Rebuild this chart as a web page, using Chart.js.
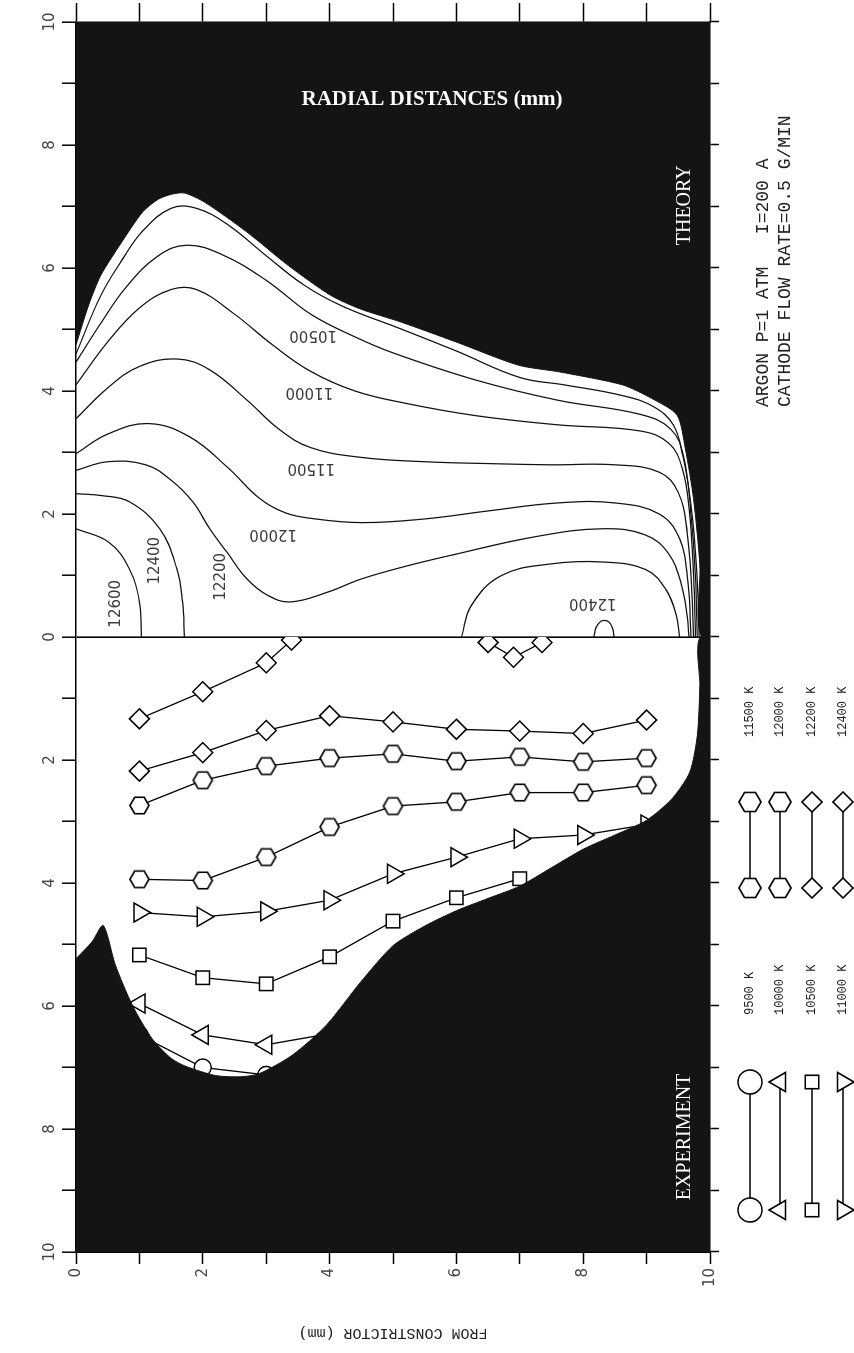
<!DOCTYPE html>
<html>
<head>
<meta charset="utf-8">
<script src="https://cdn.jsdelivr.net/npm/chart.js@4.4.0/dist/chart.umd.min.js"></script>
<style>
  html, body { margin: 0; padding: 0; background: #fff; overflow: hidden; }
  /* the figure is drawn in landscape and turned a quarter turn, like the scanned page */
  #wrap { position: absolute; left: 0; top: 0; width: 1353px; height: 854px;
          transform-origin: 0 0; transform: translateY(1353px) rotate(-90deg); }
</style>
</head>
<body>
<div id="wrap"><canvas id="chart" width="1353" height="854"></canvas></div>
<script>
// ---- experiment: radial position (mm) of each isotherm vs distance from constrictor (mm)
const expAxial = [1, 2, 3, 4, 5, 6, 7, 8, 9];
const exp9500 = [6.47, 7.0, 7.12];
const exp10000 = [5.96, 6.47, 6.63, 6.45];
const exp10500 = [5.17, 5.54, 5.64, 5.20, 4.62, 4.24, 3.93];
const exp11000 = [4.48, 4.55, 4.46, 4.28, 3.85, 3.58, 3.28, 3.22, 3.05];
const exp11500 = [3.94, 3.96, 3.58, 3.09, 2.75, 2.68, 2.53, 2.53, 2.41];
const exp12000 = [2.74, 2.33, 2.10, 1.97, 1.90, 2.02, 1.95, 2.03, 1.97];
const exp12200 = [2.18, 1.88, 1.52, 1.28, 1.38, 1.50, 1.53, 1.57, 1.35];
const exp12400Axial = [1, 2, 3, 3.4];
const exp12400 = [1.33, 0.89, 0.42, 0.05];
const exp12400bAxial = [6.5, 6.9, 7.35];
const exp12400b = [0.09, 0.33, 0.09];

// outer edge of the measured plasma (black outside)
const expEdgeAxial = [0, 0.25, 0.43, 0.62, 0.89, 1.2, 1.5, 1.73, 2.2, 2.6, 2.89, 3.41, 3.95, 4.49, 5.0, 5.5, 6.0, 6.5, 7.0, 7.5, 8.0, 8.5, 9.0, 9.4, 9.68, 9.8, 9.84, 9.85];
const expEdgeR = [5.23, 4.96, 4.69, 5.33, 5.99, 6.53, 6.85, 6.98, 7.13, 7.15, 7.1, 6.8, 6.31, 5.61, 5.02, 4.7, 4.45, 4.25, 4.05, 3.75, 3.45, 3.22, 2.98, 2.63, 2.2, 1.6, 0.8, 0];

// ---- theory: isotherms
const t9500Ax = [0, 0.2, 0.39, 0.72, 1.05, 1.3, 1.51, 1.71, 2.03, 2.69, 3.35, 4.01, 4.47, 5.13, 5.99, 6.98, 7.63, 8.62, 9.08, 9.48, 9.61, 9.74, 9.84, 9.87];
const t9500R = [4.75, 5.4, 5.88, 6.42, 6.91, 7.12, 7.2, 7.22, 7.07, 6.59, 6.04, 5.56, 5.34, 5.12, 4.8, 4.42, 4.31, 4.1, 3.88, 3.61, 3.07, 2.25, 1.17, 0];
const t10000Ax = [0, 0.39, 0.72, 1.05, 1.5, 1.9, 2.4, 3.0, 3.6, 4.2, 5.1, 6.0, 7.0, 7.7, 8.6, 9.1, 9.42, 9.57, 9.7, 9.79, 9.83];
const t10000R = [4.6, 5.55, 6.12, 6.6, 6.97, 6.97, 6.7, 6.2, 5.72, 5.38, 5.02, 4.65, 4.22, 4.1, 3.93, 3.75, 3.45, 2.95, 2.15, 1.1, 0];
const t10500Ax = [0, 0.39, 0.8, 1.3, 1.75, 2.3, 3.0, 3.7, 4.4, 5.0, 6.3, 7.6, 8.9, 9.38, 9.58, 9.7, 9.77, 9.8];
const t10500R = [4.47, 5.1, 5.7, 6.2, 6.37, 6.22, 5.8, 5.25, 4.88, 4.62, 4.18, 3.85, 3.62, 3.38, 2.95, 2.0, 1.0, 0];
const t11000Ax = [0, 0.5, 1.0, 1.5, 1.9, 2.5, 3.1, 3.7, 4.4, 5.2, 6.3, 7.6, 8.9, 9.35, 9.56, 9.68, 9.74, 9.77];
const t11000R = [4.1, 4.8, 5.35, 5.65, 5.65, 5.25, 4.75, 4.32, 4.0, 3.8, 3.6, 3.45, 3.35, 3.15, 2.75, 2.0, 1.0, 0];
const t11500Ax = [0, 0.5, 1.0, 1.6, 2.1, 2.7, 3.2, 3.7, 4.5, 5.5, 6.5, 7.5, 8.5, 9.2, 9.5, 9.64, 9.71, 9.74];
const t11500R = [3.55, 4.05, 4.4, 4.52, 4.35, 3.85, 3.38, 3.08, 2.92, 2.85, 2.82, 2.8, 2.8, 2.68, 2.35, 1.7, 0.8, 0];
const t12000Ax = [0, 0.5, 1.15, 1.8, 2.4, 2.9, 3.3, 3.7, 4.5, 5.5, 6.5, 7.6, 8.5, 9.2, 9.52, 9.65, 9.7];
const t12000R = [2.98, 3.3, 3.47, 3.25, 2.75, 2.25, 2.02, 1.93, 1.86, 1.92, 2.05, 2.18, 2.18, 2.0, 1.6, 0.9, 0];
const t12200Ax = [0, 0.5, 1.1, 1.5, 1.84, 2.11, 2.38, 2.7, 3.02, 3.38, 3.97, 4.49, 5.2, 5.92, 7.24, 8.3, 8.98, 9.35, 9.55, 9.64, 9.67];
const t12200R = [2.71, 2.85, 2.8, 2.55, 2.2, 1.76, 1.38, 0.94, 0.68, 0.57, 0.73, 0.94, 1.15, 1.33, 1.63, 1.76, 1.66, 1.35, 0.85, 0.35, 0];
const t12400Ax = [0, 0.4, 0.84, 1.32, 1.59, 1.68, 1.71];
const t12400R = [2.33, 2.3, 2.2, 1.76, 1.11, 0.57, 0];
const t12400bAx = [6.08, 6.24, 6.71, 7.5, 8.3, 8.98, 9.3, 9.47, 9.52];
const t12400bR = [0, 0.52, 1.0, 1.19, 1.22, 1.1, 0.78, 0.35, 0];
const t12600Ax = [0, 0.52, 0.84, 1.0, 1.03];
const t12600R = [1.76, 1.54, 1.11, 0.57, 0];
const t12600bAx = [8.17, 8.2, 8.27, 8.33, 8.4, 8.46, 8.49];
const t12600bR = [0, 0.15, 0.25, 0.27, 0.25, 0.15, 0];

// contour labels (axial mm, radial mm, upside down?)
const labelText = ['10500', '11000', '11500', '12000', '12200', '12400', '12600', '12400'];
const labelAxial = [3.74, 3.68, 3.71, 3.11, 2.29, 1.25, 0.63, 8.15];
const labelR = [4.92, 3.99, 2.75, 1.67, 0.98, 1.24, 0.54, 0.55];
const labelFlip = [true, true, true, true, false, false, false, true];

const legendLabels = ['9500 K', '10000 K', '10500 K', '11000 K', '11500 K', '12000 K', '12200 K', '12400 K'];

function pts(ax, r, sign) {
    return r.map(function (v, i) { return { x: sign * v, y: ax[i] }; });
}

function makeHex(R) {
    var c = document.createElement('canvas');
    var s = Math.ceil(2 * R + 4);
    c.width = s; c.height = s;
    var g = c.getContext('2d');
    g.beginPath();
    for (var k = 0; k < 6; k++) {
        var a = Math.PI / 2 + k * Math.PI / 3;
        var px = s / 2 + R * Math.cos(a), py = s / 2 + R * Math.sin(a);
        if (k) g.lineTo(px, py); else g.moveTo(px, py);
    }
    g.closePath();
    g.fillStyle = '#fff'; g.fill();
    g.lineWidth = 1.6; g.strokeStyle = '#000'; g.stroke();
    return c;
}
var hex = makeHex(9.5);
var hexBig = makeHex(11);

var styles = [
    { pointStyle: 'circle', pointRadius: 8.5, pointRotation: 0 },
    { pointStyle: 'triangle', pointRadius: 11, pointRotation: 0 },
    { pointStyle: 'rect', pointRadius: 9.5, pointRotation: 0 },
    { pointStyle: 'triangle', pointRadius: 11, pointRotation: 180 },
    { pointStyle: hex, pointRadius: 10, pointRotation: 0 },
    { pointStyle: hex, pointRadius: 10, pointRotation: 0 },
    { pointStyle: 'rectRot', pointRadius: 10, pointRotation: 0 },
    { pointStyle: 'rectRot', pointRadius: 10, pointRotation: 0 }
];

function expSeries(label, ax, r, st) {
    return {
        label: label, data: pts(ax, r, -1), showLine: true, tension: 0,
        borderColor: '#000', borderWidth: 1.3,
        pointStyle: st.pointStyle, pointRadius: st.pointRadius, pointRotation: st.pointRotation,
        pointBackgroundColor: '#fff', pointBorderColor: '#000', pointBorderWidth: 1.5,
        side: 'exp', order: 5
    };
}

function contour(ax, r) {
    return {
        data: pts(ax, r, 1), showLine: true, tension: 0.4, fill: false,
        borderColor: '#111', borderWidth: 1.25, pointRadius: 0, order: 8
    };
}

// black surroundings, closed outside the frame so the frame clips them
var theoryMask = pts(t9500Ax, t9500R, 1).concat([
    { x: 0, y: 10.6 }, { x: 10.6, y: 10.6 }, { x: 10.6, y: -0.6 }, { x: t9500R[0], y: -0.6 }
]);
var expMask = pts(expEdgeAxial, expEdgeR, -1).concat([
    { x: 0, y: 10.6 }, { x: -10.6, y: 10.6 }, { x: -10.6, y: -0.6 }, { x: -expEdgeR[0], y: -0.6 }
]);

var datasets = [
    { data: theoryMask, showLine: true, fill: 'shape', tension: 0.25, backgroundColor: '#141414',
      borderColor: '#141414', borderWidth: 1, pointRadius: 0, order: 10 },
    contour(t10000Ax, t10000R), contour(t10500Ax, t10500R), contour(t11000Ax, t11000R),
    contour(t11500Ax, t11500R), contour(t12000Ax, t12000R), contour(t12200Ax, t12200R),
    contour(t12400Ax, t12400R), contour(t12400bAx, t12400bR),
    contour(t12600Ax, t12600R), contour(t12600bAx, t12600bR),
    expSeries('9500 K', expAxial.slice(0, 3), exp9500, styles[0]),
    expSeries('10000 K', expAxial.slice(0, 4), exp10000, styles[1]),
    expSeries('10500 K', expAxial.slice(0, 7), exp10500, styles[2]),
    expSeries('11000 K', expAxial, exp11000, styles[3]),
    expSeries('11500 K', expAxial, exp11500, styles[4]),
    expSeries('12000 K', expAxial, exp12000, styles[5]),
    expSeries('12200 K', expAxial, exp12200, styles[6]),
    expSeries('12400 K', exp12400Axial, exp12400, styles[7]),
    expSeries('12400 K', exp12400bAxial, exp12400b, styles[7]),
    { data: expMask, showLine: true, fill: 'shape', tension: 0.25, backgroundColor: '#141414',
      borderColor: '#141414', borderWidth: 1, pointRadius: 0, order: 1 }
];

var tickFont = { family: 'DejaVu Sans', size: 15 };

var figurePlugin = {
    id: 'figure',
    beforeDatasetDraw: function (chart, args) {
        var ds = chart.data.datasets[args.index];
        if (ds.side !== 'exp') return;
        var a = chart.chartArea, x0 = chart.scales.x.getPixelForValue(0);
        chart.ctx.save();
        chart.ctx.beginPath();
        chart.ctx.rect(a.left, a.top, x0 - a.left, a.bottom - a.top);
        chart.ctx.clip();
    },
    afterDatasetDraw: function (chart, args) {
        if (chart.data.datasets[args.index].side === 'exp') chart.ctx.restore();
    },
    afterDraw: function (chart) {
        var ctx = chart.ctx, xs = chart.scales.x, ys = chart.scales.y;
        ctx.save();
        // contour labels
        ctx.font = '15px "DejaVu Sans"';
        ctx.fillStyle = '#3a3a3a';
        ctx.textAlign = 'center';
        ctx.textBaseline = 'middle';
        labelText.forEach(function (t, i) {
            ctx.save();
            ctx.translate(xs.getPixelForValue(labelR[i]), ys.getPixelForValue(labelAxial[i]));
            if (labelFlip[i]) ctx.rotate(-Math.PI / 2);
            ctx.fillText(t, 0, 0);
            ctx.restore();
        });
        // panel names
        ctx.font = '20px "Liberation Serif"';
        ctx.fillStyle = '#fff';
        ctx.fillText('THEORY', xs.getPixelForValue(7.02), ys.getPixelForValue(9.6));
        ctx.fillText('EXPERIMENT', xs.getPixelForValue(-8.13), ys.getPixelForValue(9.6));
        ctx.save();
        ctx.translate(1253, 432);
        ctx.rotate(Math.PI / 2);
        ctx.font = 'bold 21px "Liberation Serif"';
        ctx.fillText('RADIAL DISTANCES (mm)', 0, 0);
        ctx.restore();

        // run conditions
        ctx.fillStyle = '#222';
        ctx.textAlign = 'left';
        ctx.font = '18px "Liberation Mono"';
        ctx.fillText('ARGON P=1 ATM   I=200 A', 946, 763);
        ctx.fillText('CATHODE FLOW RATE=0.5 G/MIN', 946, 785);

        // legend: marker - line - marker, label beyond
        var cols = [750, 780, 812, 843];
        var groups = [{ from: 143, to: 271, text: 338, first: 0 }, { from: 465, to: 551, text: 616, first: 4 }];
        groups.forEach(function (g) {
            for (var k = 0; k < 4; k++) {
                var st = styles[g.first + k], Y = cols[k];
                ctx.strokeStyle = '#000';
                ctx.lineWidth = 1.5;
                ctx.beginPath();
                ctx.moveTo(g.from, Y);
                ctx.lineTo(g.to, Y);
                ctx.stroke();
                [g.from, g.to].forEach(function (X) {
                    ctx.fillStyle = '#fff';
                    ctx.strokeStyle = '#000';
                    ctx.lineWidth = 1.6;
                    var ps = st.pointStyle === hex ? hexBig : st.pointStyle;
                    Chart.helpers.drawPoint(ctx, {
                        pointStyle: ps, radius: st.pointStyle === 'circle' ? 12 : st.pointRadius,
                        rotation: st.pointRotation, borderWidth: 1.6
                    }, X, Y);
                });
                ctx.fillStyle = '#222';
                ctx.font = '12px "Liberation Mono"';
                ctx.fillText(legendLabels[g.first + k], g.text, Y);
            }
        });
        ctx.restore();
    }
};

new Chart(document.getElementById('chart').getContext('2d'), {
    type: 'scatter',
    data: { datasets: datasets },
    options: {
        responsive: false,
        animation: false,
        devicePixelRatio: 1,
        events: [],
        layout: { padding: 0 },
        plugins: { legend: { display: false }, tooltip: { enabled: false } },
        scales: {
            x: {
                type: 'linear', position: 'top', min: -10, max: 10,
                ticks: {
                    stepSize: 1, autoSkip: false, maxRotation: 0, minRotation: 0, padding: 3,
                    color: '#444', font: tickFont,
                    callback: function (v) { return v % 2 === 0 ? String(Math.abs(v)) : ''; }
                },
                grid: {
                    drawOnChartArea: true, tickLength: 14, tickColor: '#000', tickWidth: 1.5,
                    color: function (c) { return c.tick && c.tick.value === 0 ? '#000' : 'rgba(0,0,0,0)'; },
                    lineWidth: 1.6
                },
                border: { color: '#000', width: 1.5 },
                afterFit: function (s) { s.height = 76; }
            },
            xB: {
                type: 'linear', position: 'bottom', min: -10, max: 10,
                ticks: { stepSize: 1, autoSkip: false, maxRotation: 0, font: { size: 1 }, callback: function () { return ''; } },
                grid: { drawOnChartArea: false, tickLength: 9, color: '#000', tickWidth: 1.5 },
                border: { color: '#000', width: 1.5 },
                afterFit: function (s) { s.height = 144; }
            },
            y: {
                type: 'linear', position: 'left', min: 0, max: 10, reverse: true,
                ticks: {
                    stepSize: 1, autoSkip: false, padding: 4, color: '#444', font: tickFont,
                    callback: function (v) { return v % 2 === 0 ? String(v) : ''; }
                },
                title: {
                    display: true, text: 'FROM CONSTRICTOR (mm)', color: '#222',
                    font: { family: 'Liberation Mono', size: 15 }, padding: { top: 11, bottom: 0 }
                },
                grid: { drawOnChartArea: false, tickLength: 12, color: '#000', tickWidth: 1.5 },
                border: { color: '#000', width: 1.5 },
                afterFit: function (s) { s.width = 101; }
            },
            yR: {
                type: 'linear', position: 'right', min: 0, max: 10, reverse: true,
                ticks: { stepSize: 1, autoSkip: false, font: { size: 1 }, callback: function () { return ''; } },
                grid: { drawOnChartArea: false, tickLength: 19, color: '#000', tickWidth: 1.5 },
                border: { color: '#000', width: 1.5 },
                afterFit: function (s) { s.width = 22; }
            }
        }
    },
    plugins: [figurePlugin]
});
</script>
</body>
</html>
